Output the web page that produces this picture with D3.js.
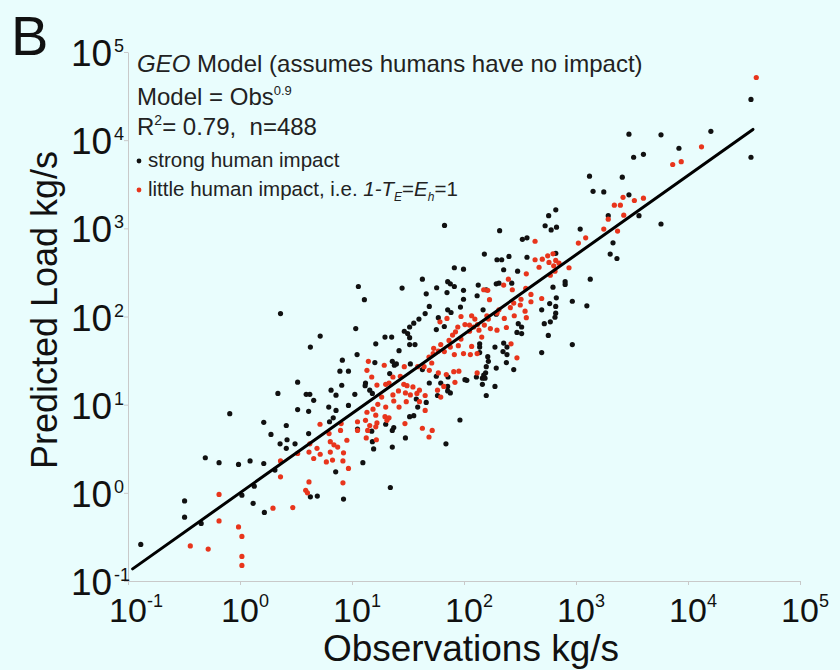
<!DOCTYPE html>
<html>
<head>
<meta charset="utf-8">
<style>
  body { margin: 0; background: #e9fdfd; }
  svg { display: block; font-family: "Liberation Sans", Arial, Helvetica, sans-serif; }
  .axis path, .axis line { stroke: #c9c9c9; stroke-width: 1px; fill: none; }
  .tick-base { fill: #111; }
  .note { fill: #222; }
</style>
</head>
<body>
<div id="chart"></div>
<script src="https://cdn.jsdelivr.net/npm/d3@7"></script>
<script>
// decade ticks on both log axes
var tickValues = [0.1, 1, 10, 100, 1000, 10000, 100000];
var tickExponents = ['-1', '0', '1', '2', '3', '4', '5'];

// model line: Model = Obs^0.9, drawn over the observed range
var modelExponent = 0.9;
var modelRange = [0.11, 38000];

// [observed, predicted] kg/s, rivers with strong human impact (black)
var strongImpact = [
  [0.13,0.26],[0.32,0.81],[0.32,0.53],[0.45,0.45],[0.49,2.5],[0.65,2.2],[0.81,7.9],[0.97,2.1],[1.04,0.94],[1.23,2.3],
  [1.31,0.76],[1.34,1.19],[1.63,2.15],[1.63,6.3],[1.65,0.6],[1.89,4.6],[2.05,1.81],[2.18,13.4],[2.28,3.6],[2.59,5.8],
  [2.59,3.2],[2.63,4.0],[3.1,3.6],[3.27,18],[3.27,8.8],[3.9,13.1],[4.2,13.1],[4.1,8.4],[4.1,4.7],[4.25,0.9],
  [4.55,11.2],[4.9,0.92],[6.2,9.4],[6.3,6.4],[6.5,14.6],[6.8,7.1],[7.2,12.8],[7.15,1.73],[7.2,8.6],[8.1,16.6],
  [8.4,0.85],[9.3,9.8],[22,1.15],[2.3,108],[5.2,60],[4.25,45],[8.2,32],[7.8,24],[9.3,24],
  [67,1080],[660,1620],[570,1390],[530,1070],[600,960],[670,1030],[1090,980],[1940,1390],[3650,1390],[208,940],
  [332,750],[365,780],[2140,685],[152,510],[252,480],[365,470],[660,520],[2020,510],[2320,455],[197,440],
  [217,440],[82,357],[99,344],[226,339],[301,327],[42.5,265],[71.5,248],[75.5,235],[82,219],[134,227],
  [194,235],[205,239],[267,239],[623,215],[800,248],[800,231],[1340,265],[11.4,219],[28,210],[57,212],
  [99,198],[46,181],[70.5,187],[131,172],[158,201],[12.9,155],[99,157],[667,163],[927,149],[49,130],
  [93,128],[582,140],[494,119],[659,130],[1250,132],[45,108],[71.5,119],[76.6,111],[59,97],[148,119],
  [194,106],[659,109],[649,98],[590,87],[39.6,93.5],[35.6,84],[66.7,77],[521,83],[10.8,73],[32.7,76],
  [56.6,71],[305,83],[327,76],[297,66],[327,64],[29.3,68],[31.4,64],[19.7,58.5],[22.6,58.5],[32.7,57.5],
  [566,61],[32.7,48],[36.5,48],[16.3,49],[138,49],[138,45],[189,45],[226,50],[242,45],[927,48],
  [26.3,41],[138,39],[223,40],[242,37],[494,39],[11.1,37],[163,35],[22.9,31],[24.9,29],[33.2,29],
  [165,31],[239,30],[194,26],[278,25],[158,27],[16,30],[23.9,28],[21.7,22.5],[42.5,25],[156,23],
  [150,21.7],[146,20],[154,20],[56.6,21],[72,20.6],[102,19.2],[106,18.9],[129,20.6],[13.2,17.6],[13.1,16.4],
  [49,17.6],[62,17.6],[71.5,16.1],[146,17],[189,16.1],[71.5,14.3],[75.5,13.6],[58,12.7],[158,12.7],[10.6,13.1],
  [14.4,14.6],[15.2,13.4],[37.5,11.6],[46,10.6],[38.6,9.4],[32.7,7.3],[35.6,7.5],[23.6,5.5],[22.9,5.1],[20,6.0],
  [11.2,5.3],[15,5.0],[92,6.7],[30,4.2],[15.2,3.8],[15.6,3.15],[22.9,3.3],[69,3.6],[12.5,2.2],
  [36500,29000],[36500,6400],[16000,12600],[2970,11700],[5740,11500],[8300,8100],[3270,6400],[4000,6900],[1320,3900],[2590,3800],
  [1420,2630],[1770,2590],[2970,2400],[5740,1120]
];

// [observed, predicted] kg/s, little human impact (red)
var littleImpact = [
  [0.36,0.25],[0.52,0.23],[0.65,0.96],[0.65,0.48],[0.97,0.41],[1.04,0.32],[1.04,0.19],[1.04,0.15],[1.97,0.67],[2.3,1.52],
  [2.3,2.3],[2.96,0.68],[3.27,2.8],[3.86,1.07],[4.13,1.33],[4.0,1.0],[4.13,2.9],[4.2,3.6],[4.55,2.45],[4.87,3.2],
  [5.2,2.74],[5.18,6.0],[5.9,2.24],[6.24,4.7],[6.4,3.8],[6.4,2.9],[6.7,2.35],[6.9,3.5],[7.45,3.3],[7.9,5.1],
  [8.0,6.1],[8.3,1.3],[8.3,2.3],[8.4,2.84],[9.0,3.95],[9.3,1.89],
  [2200,1830],[2490,1830],[1940,1270],[1770,980],[2350,930],[2670,1410],[1050,680],[1220,780],[431,714],[559,488],
  [623,514],[431,440],[500,447],[574,410],[659,432],[705,403],[632,376],[468,362],[866,357],[649,327],
  [590,294],[360,305],[249,265],[226,227],[270,201],[356,208],[150,201],[163,198],[396,178],[494,160],
  [323,157],[169,155],[396,147],[278,142],[259,126],[318,135],[351,115],[205,119],[281,102],[360,97],
  [197,109],[229,95],[160,102],[165,93.5],[70.5,95],[61,87],[94,100],[117,102],[125,93.5],[102,81],
  [112,80],[132,81],[122,76],[152,80],[172,73],[197,70],[239,75],[88,76],[84,67],[112,68],
  [136,70],[144,58.5],[94,55.5],[79,61.5],[73.5,53.6],[263,49],[62,48],[75.5,45],[89,46.7],[117,45.8],
  [53.6,43.5],[59,40.6],[53,37.9],[66.7,40],[82,37],[99,38],[114,37],[131,38],[297,34],[48.7,34.7],
  [44,27],[38.6,27],[51.5,29.7],[29.3,27],[14,31],[13.6,24.5],[19.4,28],[27,21],[23.2,20.6],[20,17],
  [21.4,17.6],[16.7,16.7],[15,20.6],[29,17],[31,16.4],[35,15.9],[40,14.6],[49,24.5],[59,22.9],[69.5,22],
  [81,23.7],[90,24],[131,22.9],[66,16.1],[62,12.2],[58,14.6],[83,17.9],[45,12.7],[38,13.4],[40,10.8],
  [45,8.6],[26,14.3],[23.2,12.9],[23.6,11],[30,13.6],[33.2,12.9],[30.5,10.8],[26.3,9.4],[20,9.4],[18.4,12.2],
  [17,10.1],[15.4,8.9],[13.6,8.2],[13.2,6.65],[16.3,7.6],[19.7,7.3],[21.4,7.1],[20.5,6.65],[16.7,6.2],[11.2,6.4],
  [11.2,5.1],[13.8,5.1],[14.4,5.8],[16.3,5.6],[29.7,6.1],[42.5,5.4],[52,5.1],[48.7,4.3],[13.4,4.2],[16.5,4.0],
  [40700,51400],[13200,8400],[7300,5300],[8700,5700],[2630,2250],[3320,2070],[4000,2200]
];

var width = 840;
var height = 670;
var blackDot = '#111111';
var redDot = '#e8351c';

var svg = d3.select('#chart').append('svg')
  .attr('width', width)
  .attr('height', height);

svg.append('rect')
  .attr('width', width)
  .attr('height', height)
  .attr('fill', '#e9fdfd');

var x = d3.scaleLog().domain([0.1, 100000]).range([128, 800]);
var y = d3.scaleLog().domain([0.1, 100000]).range([581, 52]);

// axes: thin grey lines, labels drawn separately as 10 + superscript
svg.append('g')
  .attr('class', 'axis')
  .attr('transform', 'translate(0,' + y(0.1) + ')')
  .call(d3.axisBottom(x).tickValues(tickValues).tickSize(4).tickSizeOuter(0).tickFormat(''));

svg.append('g')
  .attr('class', 'axis')
  .attr('transform', 'translate(' + x(0.1) + ',0)')
  .call(d3.axisLeft(y).tickValues(tickValues).tickSize(4).tickSizeOuter(0).tickFormat(''));

var xLabels = svg.append('g').selectAll('g')
  .data(tickValues)
  .enter().append('g');
xLabels.append('text')
  .attr('class', 'tick-base')
  .attr('x', function (d) { return x(d); })
  .attr('y', 622)
  .attr('text-anchor', 'middle')
  .style('font-size', '34px')
  .text('10');
xLabels.append('text')
  .attr('class', 'tick-base')
  .attr('x', function (d) { return x(d) + 19; })
  .attr('y', 607)
  .style('font-size', '18px')
  .text(function (d, i) { return tickExponents[i]; });

var yLabels = svg.append('g').selectAll('g')
  .data(tickValues)
  .enter().append('g');
yLabels.append('text')
  .attr('class', 'tick-base')
  .attr('x', 71)
  .attr('y', function (d) { return y(d) + 14; })
  .style('font-size', '37px')
  .text('10');
yLabels.append('text')
  .attr('class', 'tick-base')
  .attr('x', 114)
  .attr('y', function (d) { return y(d); })
  .style('font-size', '18px')
  .text(function (d, i) { return tickExponents[i]; });

// axis titles
svg.append('text')
  .attr('x', 471)
  .attr('y', 661)
  .attr('text-anchor', 'middle')
  .style('font-size', '37px')
  .attr('fill', '#111')
  .text('Observations kg/s');

svg.append('text')
  .attr('transform', 'translate(57,310) rotate(-90)')
  .attr('text-anchor', 'middle')
  .style('font-size', '36px')
  .attr('fill', '#111')
  .text('Predicted Load kg/s');

// panel letter
svg.append('text')
  .attr('x', 11)
  .attr('y', 55)
  .style('font-size', '56px')
  .attr('fill', '#111')
  .text('B');

// points
svg.append('g').selectAll('circle')
  .data(strongImpact)
  .enter().append('circle')
  .attr('cx', function (d) { return x(d[0]); })
  .attr('cy', function (d) { return y(d[1]); })
  .attr('r', 2.6)
  .attr('fill', blackDot);

svg.append('g').selectAll('circle')
  .data(littleImpact)
  .enter().append('circle')
  .attr('cx', function (d) { return x(d[0]); })
  .attr('cy', function (d) { return y(d[1]); })
  .attr('r', 2.6)
  .attr('fill', redDot);

// model line
var line = d3.line()
  .x(function (d) { return x(d); })
  .y(function (d) { return y(Math.pow(d, modelExponent)); });

svg.append('path')
  .datum(modelRange)
  .attr('d', line)
  .attr('fill', 'none')
  .attr('stroke', '#000')
  .attr('stroke-width', 3)
  .attr('stroke-linecap', 'round');

// annotation block
var notes = svg.append('g').attr('class', 'note');

var t1 = notes.append('text').attr('x', 137).attr('y', 72).style('font-size', '24px');
t1.append('tspan').style('font-style', 'italic').text('GEO');
t1.append('tspan').text(' Model (assumes humans have no impact)');

var t2 = notes.append('text').attr('x', 137).attr('y', 105).style('font-size', '24px');
t2.append('tspan').text('Model = Obs');
t2.append('tspan').attr('dy', -10).style('font-size', '13px').text('0.9');

var t3 = notes.append('text').attr('x', 137).attr('y', 135).style('font-size', '24px');
t3.append('tspan').text('R');
t3.append('tspan').attr('dy', -10).style('font-size', '14px').text('2');
t3.append('tspan').attr('dy', 10).text('= 0.79,\u00a0\u00a0n=488');

notes.append('circle').attr('cx', 139).attr('cy', 161).attr('r', 2.4).attr('fill', blackDot);
notes.append('text').attr('x', 148).attr('y', 167).style('font-size', '20.5px')
  .text('strong human impact');

notes.append('circle').attr('cx', 139).attr('cy', 190).attr('r', 2.4).attr('fill', redDot);
var t5 = notes.append('text').attr('x', 148).attr('y', 196).style('font-size', '20.5px');
t5.append('tspan').text('little human impact, i.e.\u00a0');
t5.append('tspan').style('font-style', 'italic').text('1-T');
t5.append('tspan').attr('dy', 5).style('font-style', 'italic').style('font-size', '12px').text('E');
t5.append('tspan').attr('dy', -5).text('=');
t5.append('tspan').style('font-style', 'italic').text('E');
t5.append('tspan').attr('dy', 5).style('font-style', 'italic').style('font-size', '12px').text('h');
t5.append('tspan').attr('dy', -5).text('=1');
</script>
</body>
</html>
